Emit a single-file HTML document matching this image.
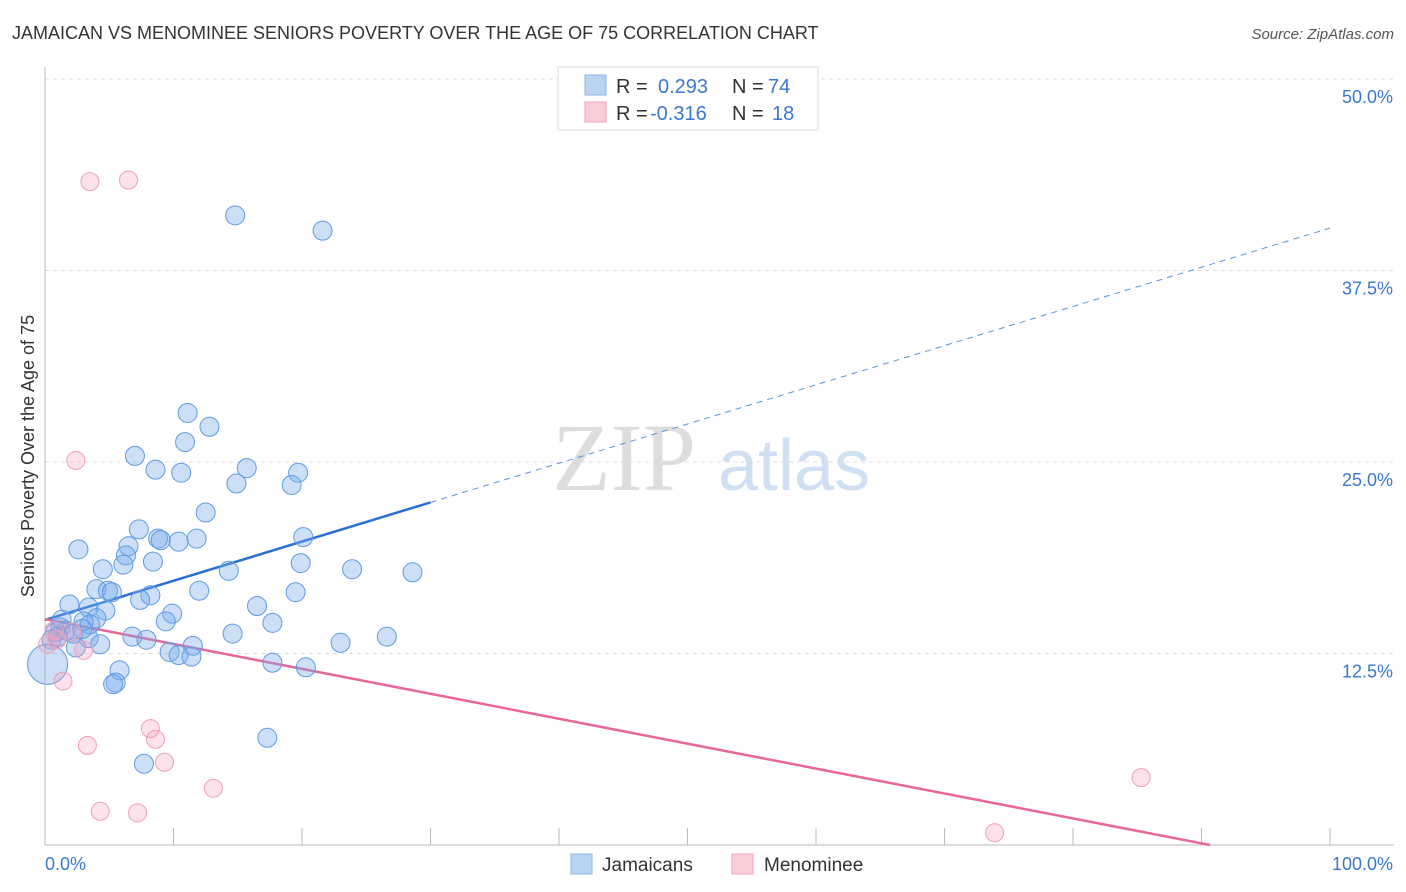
<!DOCTYPE html>
<html><head><meta charset="utf-8"><style>
body{margin:0;background:#fff;font-family:"Liberation Sans",sans-serif;}
svg{display:block}
</style></head><body>
<svg id="c" width="1406" height="892" xmlns="http://www.w3.org/2000/svg">
<text x="12" y="39" font-size="18" fill="#333">JAMAICAN VS MENOMINEE SENIORS POVERTY OVER THE AGE OF 75 CORRELATION CHART</text>
<text x="1394" y="39" font-size="15" fill="#555" font-style="italic" text-anchor="end">Source: ZipAtlas.com</text>
<text transform="translate(34,456) rotate(-90)" font-size="18" fill="#333" text-anchor="middle">Seniors Poverty Over the Age of 75</text>
<g><text x="552" y="490" font-size="96" fill="#ddd" font-family="Liberation Serif,serif">ZIP</text><text x="718" y="490" font-size="72" fill="#cfe0f5">atlas</text></g>
<g id="grid"></g><g id="ticks"></g><g id="lines"></g><g id="pts"></g>
<g>
<rect x="558" y="67" width="260" height="63" fill="#fff" stroke="#ddd"/>
<rect x="585" y="75" width="21" height="20" fill="#b9d3f3" stroke="#8fb6e8"/>
<rect x="585" y="102" width="21" height="20" fill="#f9ccd8" stroke="#f0a3b9"/>
<text x="616" y="93" font-size="20" fill="#333">R =</text><text x="658" y="93" font-size="20" fill="#3a78d0">0.293</text>
<text x="732" y="93" font-size="20" fill="#333">N =</text><text x="768" y="93" font-size="20" fill="#3a78d0">74</text>
<text x="616" y="120" font-size="20" fill="#333">R =</text><text x="650" y="120" font-size="20" fill="#3a78d0">-0.316</text>
<text x="732" y="120" font-size="20" fill="#333">N =</text><text x="772" y="120" font-size="20" fill="#3a78d0">18</text>
</g>
<g>
<rect x="571" y="854" width="21" height="20" fill="#b9d3f3" stroke="#8fb6e8"/>
<text x="602" y="871" font-size="19" fill="#333">Jamaicans</text>
<rect x="732" y="854" width="21" height="20" fill="#f9ccd8" stroke="#f0a3b9"/>
<text x="764" y="871" font-size="19" fill="#333">Menominee</text>
</g>
</svg>
<script>
const yTicks=[12.5,25,37.5,50];
const yTickLabels=["12.5%","25.0%","37.5%","50.0%"];
const xTicks=[0,10,20,30,40,50,60,70,80,90,100];
const blueX=[14.8,21.6,11.1,12.8,10.9,7.0,8.6,10.6,15.7,19.7,14.9,19.2,12.5,7.3,8.8,9.0,10.4,11.8,20.1,2.6,6.5,6.3,8.4,6.1,4.5,14.3,19.9,23.9,28.6,4.0,4.9,5.2,12.0,19.5,8.2,7.4,1.9,3.4,4.7,9.9,16.5,4.0,3.0,9.4,17.7,1.2,1.6,0.8,2.2,3.4,6.8,7.9,14.6,26.6,23.0,4.3,2.4,11.5,9.7,10.4,11.4,17.7,20.3,5.8,5.5,5.3,17.3,7.7,0.5,1.0,3.5,1.3,0.2,2.9];
const blueY=[41.1,40.1,28.2,27.3,26.3,25.4,24.5,24.3,24.6,24.3,23.6,23.5,21.7,20.6,20.0,19.9,19.8,20.0,20.1,19.3,19.5,18.9,18.5,18.3,18.0,17.9,18.4,18.0,17.8,16.7,16.6,16.5,16.6,16.5,16.3,16.0,15.7,15.5,15.3,15.1,15.6,14.8,14.6,14.6,14.5,14.2,14.0,13.9,13.8,13.5,13.6,13.4,13.8,13.6,13.2,13.1,12.9,13.0,12.6,12.4,12.3,11.9,11.6,11.4,10.6,10.5,7.0,5.3,13.4,13.6,14.4,14.7,11.8,14.1];
const pinkX=[3.5,6.5,2.4,1.4,3.3,8.2,8.6,9.3,13.1,4.3,7.2,85.3,73.9,0.9,2.1,3.0,0.2,0.7];
const pinkY=[43.3,43.4,25.1,10.7,6.5,7.6,6.9,5.4,3.7,2.2,2.1,4.4,0.8,13.4,13.9,12.7,13.1,14.0];
const blueTrend=[14.69,40.27]; // y at x=0 and x=100
const pinkTrend=[14.75,-1.52];
const X=v=>45+v*12.85, Y=v=>845-v*15.32;
const NS="http://www.w3.org/2000/svg";
function mk(t,a,p){const e=document.createElementNS(NS,t);for(const k in a)e.setAttribute(k,a[k]);p.appendChild(e);return e;}
const grid=document.getElementById('grid'),ticks=document.getElementById('ticks'),lines=document.getElementById('lines'),pts=document.getElementById('pts');
yTicks.forEach((v,i)=>{
 const l=mk('line',{x1:45,x2:1394,y1:Y(v),y2:Y(v),stroke:'#ddd','stroke-dasharray':'4,4'},grid);
 
 
 const t=mk('text',{x:1393,y:Y(v)+24,'font-size':18,fill:'#3a78d0','text-anchor':'end'},ticks);
 t.textContent=yTickLabels[i];
 
 
});
const ax=mk('line',{x1:45,x2:45,y1:67,y2:845,stroke:'#bbb'},grid);


const bx=mk('line',{x1:45,x2:1394,y1:845,y2:845,stroke:'#bbb'},grid);


xTicks.forEach(v=>{const l=mk('line',{x1:X(v),x2:X(v),y1:828,y2:845,stroke:'#bbb'},grid);
 
 });
const xl0=mk('text',{x:45,y:870,'font-size':18,fill:'#3a78d0'},ticks);xl0.textContent='0.0%';


const xl1=mk('text',{x:1393,y:870,'font-size':18,fill:'#3a78d0','text-anchor':'end'},ticks);xl1.textContent='100.0%';


const by=x=>blueTrend[0]+(blueTrend[1]-blueTrend[0])*x/100;
const py=x=>pinkTrend[0]+(pinkTrend[1]-pinkTrend[0])*x/100;
const b1=mk('line',{x1:X(0),y1:Y(by(0)),x2:X(30),y2:Y(by(30)),stroke:'#2a6fd6','stroke-width':2.5},lines);


const b2=mk('line',{x1:X(30),y1:Y(by(30)),x2:X(100),y2:Y(by(100)),stroke:'#5a93dd','stroke-width':1,'stroke-dasharray':'6,5'},lines);


const xEnd=-pinkTrend[0]/(pinkTrend[1]-pinkTrend[0])*100;
const p1=mk('line',{x1:X(0),y1:Y(py(0)),x2:X(xEnd),y2:Y(0),stroke:'#e8679a','stroke-width':2.5},lines);


blueX.forEach((v,i)=>{const c=mk('circle',{cx:X(v),cy:Y(blueY[i]),r:i==72?20:9.5,fill:'rgba(120,170,235,0.38)',stroke:'#5f9be3','stroke-width':1},pts);
 
 });
pinkX.forEach((v,i)=>{const c=mk('circle',{cx:X(v),cy:Y(pinkY[i]),r:9,fill:'rgba(245,160,190,0.3)',stroke:'#ef9fb8','stroke-width':1},pts);
 
 });
</script>
</body></html>
